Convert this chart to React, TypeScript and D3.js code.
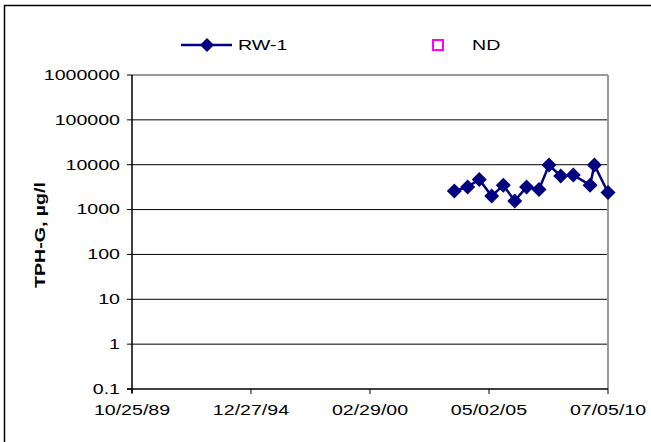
import React from "react";
import * as d3 from "d3";

// RW-1 sampling results (TPH-G, µg/l)
const sampleDates = [
  "2003-10-30", "2004-05-28", "2004-11-29", "2005-06-14", "2005-12-16",
  "2006-06-15", "2006-12-20", "2007-07-05", "2007-12-11", "2008-06-14",
  "2008-12-31", "2009-09-23", "2009-12-01", "2010-07-05",
];
const rw1Values = [2600, 3200, 4700, 2000, 3500, 1550, 3200, 2800, 9800, 5600, 5900, 3500, 9900, 2400];

const xTickDates = ["1989-10-25", "1994-12-27", "2000-02-29", "2005-05-02", "2010-07-05"];
const yTickValues = [0.1, 1, 10, 100, 1000, 10000, 100000, 1000000];

const W = 651;
const H = 442;
const plot = { left: 132, right: 608, top: 75, bottom: 389 };
const FONT = "Arial, 'Liberation Sans', sans-serif";
const NAVY = "#000080";
const STRETCH = 1.4;

const parse = d3.utcParse("%Y-%m-%d");
const fmt = d3.utcFormat("%m/%d/%y");

// Text drawn with a horizontally widened face
function WideText(props: {
  x: number;
  y: number;
  anchor?: "start" | "middle" | "end";
  rotate?: number;
  bold?: boolean;
  children: React.ReactNode;
}) {
  const { x, y, anchor = "start", rotate = 0, bold = false, children } = props;
  return (
    <text
      transform={`translate(${x},${y}) rotate(${rotate}) scale(${STRETCH},1)`}
      textAnchor={anchor}
      dy="0.35em"
      fontFamily={FONT}
      fontSize={14}
      fontWeight={bold ? "bold" : "normal"}
      fill="#000"
    >
      {children}
    </text>
  );
}

export default function App() {
  const x = d3
    .scaleUtc()
    .domain([parse(xTickDates[0])!, parse(xTickDates[xTickDates.length - 1])!])
    .range([plot.left, plot.right]);
  const y = d3.scaleLog().domain([0.1, 1000000]).range([plot.bottom, plot.top]);

  const pts = sampleDates.map((d, i) => [x(parse(d)!), y(rw1Values[i])] as [number, number]);
  const line = d3.line()(pts) ?? "";

  const diamond = (cx: number, cy: number, r: number) =>
    `M${cx},${cy - r}L${cx + r},${cy}L${cx},${cy + r}L${cx - r},${cy}Z`;

  return (
    <svg
      width={W}
      height={H}
      style={{ position: "absolute", left: 0, top: 0, display: "block", background: "#fff" }}
    >
      {/* chart frame */}
      <rect x={4.5} y={5.5} width={W + 10} height={H + 10} fill="none" stroke="#000" strokeWidth={1.5} />

      {/* horizontal gridlines */}
      {yTickValues.slice(1, -1).map((v) => (
        <line key={v} x1={plot.left} x2={plot.right} y1={y(v)} y2={y(v)} stroke="#000" strokeWidth={1} />
      ))}

      {/* plot area border: gray top and right */}
      <line x1={plot.left} x2={plot.right} y1={plot.top} y2={plot.top} stroke="#999" strokeWidth={2} />
      <line x1={plot.right} x2={plot.right} y1={plot.top} y2={plot.bottom} stroke="#999" strokeWidth={2} />

      {/* y axis */}
      <line x1={plot.left} x2={plot.left} y1={plot.top} y2={plot.bottom + 4} stroke="#000" strokeWidth={1.5} />
      {yTickValues.map((v) => (
        <g key={v}>
          <line x1={plot.left - 5} x2={plot.left} y1={y(v)} y2={y(v)} stroke="#000" />
          <WideText x={plot.left - 12} y={y(v)} anchor="end">
            {String(v)}
          </WideText>
        </g>
      ))}

      {/* x axis */}
      <line x1={plot.left - 5} x2={plot.right} y1={plot.bottom} y2={plot.bottom} stroke="#000" strokeWidth={1.5} />
      {xTickDates.map((d) => {
        const px = x(parse(d)!);
        return (
          <g key={d}>
            <line x1={px} x2={px} y1={plot.bottom} y2={plot.bottom + 5} stroke="#000" />
            <WideText x={px} y={plot.bottom + 21} anchor="middle">
              {fmt(parse(d)!)}
            </WideText>
          </g>
        );
      })}

      {/* y axis title */}
      <WideText x={40} y={235} anchor="middle" rotate={-90} bold>
        TPH-G, µg/l
      </WideText>

      {/* RW-1 series */}
      <path d={line} fill="none" stroke={NAVY} strokeWidth={2.5} />
      {pts.map(([px, py], i) => (
        <path key={i} d={diamond(px, py, 7.5)} fill={NAVY} />
      ))}

      {/* legend */}
      <line x1={181} x2={232} y1={45} y2={45} stroke={NAVY} strokeWidth={2.5} />
      <path d={diamond(207, 45, 7)} fill={NAVY} />
      <WideText x={238} y={45}>
        RW-1
      </WideText>
      <rect x={433} y={40} width={10} height={10} fill="none" stroke="#ff00ff" strokeWidth={2} />
      <WideText x={472} y={45}>
        ND
      </WideText>
    </svg>
  );
}
